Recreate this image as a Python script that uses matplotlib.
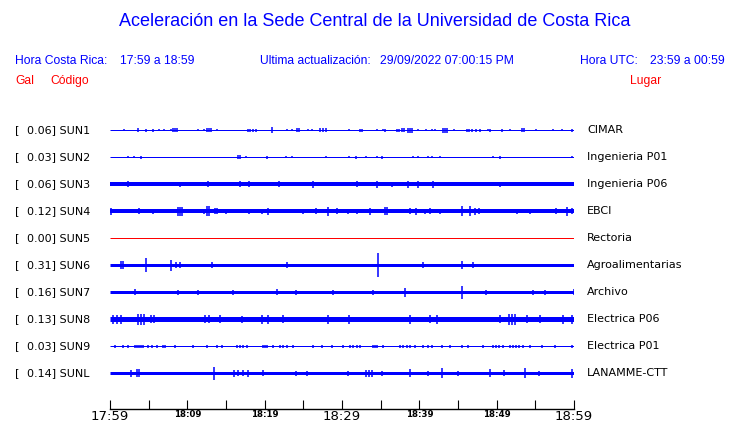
import matplotlib
matplotlib.use("Agg")
import matplotlib.pyplot as plt
from matplotlib.transforms import blended_transform_factory

# station info, top to bottom
codes = ["SUN1", "SUN2", "SUN3", "SUN4", "SUN5", "SUN6", "SUN7", "SUN8", "SUN9", "SUNL"]
peak_gal = [0.06, 0.03, 0.06, 0.12, 0.00, 0.31, 0.16, 0.13, 0.03, 0.14]
places = ["CIMAR", "Ingenieria P01", "Ingenieria P06", "EBCI", "Rectoria",
          "Agroalimentarias", "Archivo", "Electrica P06", "Electrica P01", "LANAMME-CTT"]

# background noise level of each trace (half width, in screen units of the plot)
noise = [0.5, 0.5, 2.0, 2.0, 0.5, 1.5, 1.5, 2.5, 0.5, 1.5]

# bursts: minutes after 17:59 and half amplitude
sun1_t = [1.8, 3.6, 4.7, 5.6, 6.3, 7.0, 7.9, 8.1, 8.4, 8.7, 11.4, 12.2, 12.5, 12.8, 13.1, 13.8,
          17.8, 18.1, 18.5, 18.9, 20.9, 22.9, 23.5, 24.2, 24.4, 25.6, 26.1, 27.2, 27.5, 27.9,
          30.9, 32.3, 32.6, 34.5, 35.3, 35.6, 37.1, 37.4, 37.8, 38.0, 38.5, 38.8, 39.1, 39.8,
          40.9, 41.6, 42.0, 43.1, 43.3, 43.6, 44.5, 46.2, 46.4, 46.8, 47.3, 47.8, 48.9, 49.1,
          50.7, 51.7, 53.3, 53.5, 55.1, 57.3, 58.4, 59.7]
sun1_a = [1, 2, 1.5, 1.5, 1, 1, 1, 2, 2, 2, 1, 1, 2, 2, 2, 1,
          1.5, 1.5, 1.5, 1.5, 3, 1, 1, 2, 2, 1, 1, 2, 2, 2,
          1, 1.5, 1.5, 1, 1, 1.5, 1.5, 1.5, 2, 2, 2.5, 2.5, 2.5, 1,
          1, 1, 1, 2.5, 2.5, 2.5, 1, 1.5, 1.5, 1.5, 1.5, 1.5, 1, 1.5,
          1.5, 1, 2, 2, 1, 1, 1, 1.5]

sun2_t = [2.3, 3.1, 4.0, 16.6, 16.8, 17.6, 20.3, 22.8, 23.5, 27.9, 30.9, 31.8, 33.1, 34.5,
          35.2, 39.2, 39.8, 41.1, 41.6, 42.7, 49.5, 50.4, 59.7]
sun2_a = [1, 1, 1.5, 2, 2, 1, 1.5, 1, 1, 1, 1, 1.5, 1, 1,
          1.5, 1, 1, 1, 1, 1, 1, 1.5, 1]

sun3_t = [2.3, 9.1, 9.8, 12.7, 16.8, 18.0, 21.9, 26.2, 31.9, 34.5, 36.5, 38.5, 39.8, 41.8, 50.4]
sun3_a = [3, 2.5, 2, 3, 3, 3, 3, 3.5, 3, 3.5, 2.5, 3.5, 3.5, 3.5, 2.5]

sun4_t = [0.1, 3.7, 5.6, 8.8, 9.1, 9.3, 12.2, 12.5, 12.8, 13.6, 13.8, 15.0, 18.0, 19.7, 20.4,
          25.0, 26.6, 28.2, 29.4, 30.8, 31.9, 33.6, 35.6, 35.8, 38.8, 39.6, 40.7, 41.4, 42.7,
          45.5, 46.6, 47.2, 47.7, 52.6, 54.3, 57.7, 59.1, 59.7]
sun4_a = [3.5, 3, 2.5, 4.5, 4.5, 4.5, 2.5, 5, 5, 3, 3, 2.5, 2.5, 2.5, 3.5,
          2.5, 3, 4.5, 3, 2.5, 2.5, 3.5, 4, 4, 3, 3.5, 2.5, 3, 2.5,
          5, 5, 3.5, 3, 2.5, 2.5, 3, 4.5, 3]

sun5_t = []
sun5_a = []

sun6_t = [1.4, 1.7, 4.7, 7.9, 8.5, 9.1, 13.2, 22.9, 34.7, 40.5, 45.5, 46.9]
sun6_a = [4, 4, 7, 5.5, 3, 3, 3, 3, 12, 3, 4, 3]

sun7_t = [3.2, 8.8, 11.4, 15.9, 21.6, 24.0, 28.8, 34.0, 38.1, 45.5, 48.6, 54.7, 56.2, 60.0]
sun7_a = [3, 2.5, 2.5, 2.5, 3, 2.5, 2.5, 2.5, 4.5, 6.5, 2.5, 2.5, 2.5, 3]

sun8_t = [0.4, 0.9, 1.4, 3.6, 4.0, 4.4, 5.3, 5.7, 12.3, 12.8, 14.2, 17.1, 19.7, 20.4, 22.4,
          28.2, 30.9, 38.8, 41.4, 42.3, 50.4, 51.6, 52.0, 52.4, 53.9, 55.6, 58.6, 59.7]
sun8_a = [4.5, 4.5, 4.5, 5.5, 5.5, 5.5, 4, 4, 4, 4, 4, 3.5, 4.5, 4.5, 4,
          4.5, 4.5, 4.5, 4, 4.5, 4, 5.5, 5.5, 5.5, 4, 4, 4.5, 4.5]

sun9_t = [0.6, 1.7, 2.3, 3.2, 3.5, 3.7, 4.0, 4.3, 4.9, 5.4, 6.1, 6.9, 7.1, 8.4, 10.7, 12.5,
          13.8, 14.5, 16.4, 16.8, 17.2, 17.7, 19.8, 20.0, 20.3, 21.1, 22.0, 22.4, 22.9, 23.7,
          26.2, 27.4, 28.7, 30.1, 31.0, 31.4, 31.9, 32.3, 34.0, 34.3, 34.5, 35.3, 37.5, 37.9,
          38.4, 38.8, 39.4, 40.5, 41.1, 41.6, 42.9, 44.0, 45.5, 46.3, 48.2, 49.5, 49.9, 50.3,
          50.8, 51.7, 52.1, 52.5, 52.9, 53.4, 54.3, 55.9, 57.5, 59.7]
sun9_a = [1.5] * len(sun9_t)

sunl_t = [2.7, 3.5, 3.7, 13.4, 16.0, 16.6, 17.2, 17.8, 19.8, 24.0, 25.5, 30.8, 33.1, 33.5,
          33.9, 35.2, 38.8, 41.1, 42.9, 45.0, 49.1, 50.9, 53.7, 55.5, 59.7]
sunl_a = [3.5, 4, 4, 6.5, 3.5, 3, 3, 3.5, 3, 2.5, 2.5, 2.5, 3.5, 3.5,
          3.5, 2.5, 4, 2.5, 5, 2.5, 4, 3, 5, 2.5, 4.5]

burst_times = [sun1_t, sun2_t, sun3_t, sun4_t, sun5_t, sun6_t, sun7_t, sun8_t, sun9_t, sunl_t]
burst_amps = [sun1_a, sun2_a, sun3_a, sun4_a, sun5_a, sun6_a, sun7_a, sun8_a, sun9_a, sunl_a]

tick_minutes = list(range(0, 61, 5))
tick_text = ["17:59", "", "18:09", "", "18:19", "", "18:29", "", "18:39", "", "18:49", "", "18:59"]

W, H = 740, 423
BLUE = "#0000ff"
RED = "#ff0000"
row_px = 27.0  # amplitudes above are in pixels of a 27 px row


def fx(px):
  return px / W


def fy(py):
  return 1 - py / H


fig = plt.figure(figsize=(W / 100, H / 100), dpi=100)
ax = fig.add_axes([fx(110), fy(409), 464 / W, (409 - 115) / H])
ax.set_xlim(0, 60)
ax.set_ylim(10.333, -0.556)

for i in range(len(codes)):
  color = RED if peak_gal[i] == 0 else BLUE
  ax.hlines(i, 0, 60, color=color, lw=2 * noise[i] * 0.72)
  if burst_times[i]:
    amps = [a / row_px for a in burst_amps[i]]
    ax.vlines(burst_times[i], [i - a for a in amps], [i + a for a in amps],
              color=color, lw=1.1)

for side in ["top", "left", "right"]:
  ax.spines[side].set_visible(False)
ax.spines["bottom"].set_linewidth(1.0)
ax.yaxis.set_visible(False)
ax.set_xticks(tick_minutes)
ax.set_xticklabels(tick_text)
ax.tick_params(axis="x", direction="in", length=6.5, width=0.8, pad=0.5)
for lab, txt in zip(ax.get_xticklabels(), tick_text):
  if txt in ("17:59", "18:29", "18:59"):
    lab.set_fontsize(9.5)
  else:
    lab.set_fontsize(6.2)
    lab.set_fontweight("bold")

# station labels
tr = blended_transform_factory(fig.transFigure, ax.transData)
for i in range(len(codes)):
  ax.text(fx(15), i, "[", transform=tr, fontsize=8, va="center", family="DejaVu Sans")
  ax.text(fx(27), i, "%.2f] %s" % (peak_gal[i], codes[i]), transform=tr, fontsize=8,
          va="center", family="DejaVu Sans")
  ax.text(fx(587), i, places[i], transform=tr, fontsize=8, va="center", family="DejaVu Sans")

# header
hdr = dict(family="Liberation Sans", va="center")
fig.text(fx(375), fy(22), "Aceleración en la Sede Central de la Universidad de Costa Rica",
         ha="center", fontsize=13, color=BLUE, **hdr)
fig.text(fx(15), fy(61), "Hora Costa Rica:", fontsize=8.7, color=BLUE, **hdr)
fig.text(fx(120), fy(61), "17:59 a 18:59", fontsize=8.7, color=BLUE, **hdr)
fig.text(fx(260), fy(61), "Ultima actualización:", fontsize=8.7, color=BLUE, **hdr)
fig.text(fx(380), fy(61), "29/09/2022 07:00:15 PM", fontsize=8.7, color=BLUE, **hdr)
fig.text(fx(580), fy(61), "Hora UTC:", fontsize=8.7, color=BLUE, **hdr)
fig.text(fx(650), fy(61), "23:59 a 00:59", fontsize=8.7, color=BLUE, **hdr)
fig.text(fx(15), fy(81), "Gal", fontsize=8.7, color=RED, **hdr)
fig.text(fx(50), fy(81), "Código", fontsize=8.7, color=RED, **hdr)
fig.text(fx(630), fy(81), "Lugar", fontsize=8.7, color=RED, **hdr)

fig.savefig("out.png", dpi=100)
plt.close(fig)
